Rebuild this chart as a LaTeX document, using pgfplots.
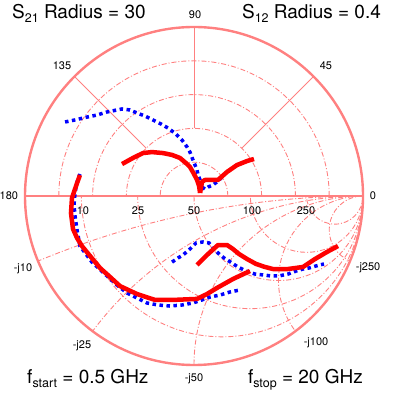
\documentclass[border=0pt]{standalone}
\usepackage{fontspec}
\setmainfont{TeX Gyre Heros}
\usepackage{pgfplots}
\pgfplotsset{compat=1.18}
\definecolor{gridc}{RGB}{255,128,128}
\definecolor{cred}{RGB}{255,0,0}
\definecolor{cblue}{RGB}{0,0,255}
\newcommand{\sub}[1]{\raisebox{-4pt}{\fontsize{12.5}{13}\selectfont #1}}
\begin{document}
\begin{tikzpicture}
\begin{axis}[scale only axis, width=396pt, height=393pt,
  xmin=-1.14793, xmax=1.19527, ymin=-1.16568, ymax=1.15976,
  hide axis, clip=false]
% ---- polar grid (upper half)
\begin{scope}[gridc, line width=0.9pt, dash pattern=on 5pt off 2pt on 1pt off 2pt]
\draw (axis cs:0.2,0) arc[start angle=0, end angle=180, radius=0.2*169pt];
\draw (axis cs:0.4,0) arc[start angle=0, end angle=180, radius=0.4*169pt];
\draw (axis cs:0.6,0) arc[start angle=0, end angle=180, radius=0.6*169pt];
\draw (axis cs:0.8,0) arc[start angle=0, end angle=180, radius=0.8*169pt];
% ---- smith resistance circles (lower half)
\draw (axis cs:1,0) arc[start angle=0, end angle=-180, radius=0.83333*169pt];
\draw (axis cs:1,0) arc[start angle=0, end angle=-180, radius=0.66667*169pt];
\draw (axis cs:1,0) arc[start angle=0, end angle=-180, radius=0.5*169pt];
\draw (axis cs:1,0) arc[start angle=0, end angle=-180, radius=0.33333*169pt];
\draw (axis cs:1,0) arc[start angle=0, end angle=-180, radius=0.16667*169pt];
% ---- reactance arcs
\draw (axis cs:1,0) arc[start angle=90, end angle=112.62, radius=5*169pt];
\draw (axis cs:1,0) arc[start angle=90, end angle=143.13, radius=2*169pt];
\draw (axis cs:1,0) arc[start angle=90, end angle=180, radius=1*169pt];
\draw (axis cs:1,0) arc[start angle=90, end angle=216.87, radius=0.5*169pt];
\draw (axis cs:1,0) arc[start angle=90, end angle=247.38, radius=0.2*169pt];
\end{scope}
\draw[gridc, line width=1pt] (axis cs:0.28284,0.28284) -- (axis cs:0.70711,0.70711);
\draw[gridc, line width=1pt] (axis cs:-0.28284,0.28284) -- (axis cs:-0.70711,0.70711);
\draw[gridc, line width=1pt] (axis cs:0,0.4) -- (axis cs:0,1);
\draw[gridc, line width=1.2pt] (axis cs:-1,0) -- (axis cs:1,0);
\draw[gridc, line width=2.4pt] (axis cs:0,0) circle[radius=169pt];
% ---- labels
\begin{scope}[every node/.style={font=\fontsize{11}{12}\selectfont}]
\node[anchor=east] at (axis cs:-1.02,0) {180};
\node at (axis cs:1.059,0) {0};
\node at (axis cs:0.006,1.071) {90};
\node at (axis cs:-0.781,0.772) {135};
\node at (axis cs:0.781,0.772) {45};
\node at (axis cs:-0.657,-0.089) {10};
\node at (axis cs:-0.331,-0.089) {25};
\node at (axis cs:0,-0.089) {50};
\node at (axis cs:0.343,-0.089) {100};
\node at (axis cs:0.663,-0.089) {250};
\node at (axis cs:-1.012,-0.432) {-j10};
\node at (axis cs:-0.663,-0.888) {-j25};
\node at (axis cs:0,-1.083) {-j50};
\node at (axis cs:0.722,-0.870) {-j100};
\node at (axis cs:1.030,-0.426) {-j250};
\end{scope}
\begin{scope}[every node/.style={font=\fontsize{19}{21}\selectfont, inner sep=0pt}]
\node[anchor=base west] at (axis cs:-1.077,1.053) {S\sub{21} Radius = 30};
\node[anchor=base east] at (axis cs:1.107,1.053) {S\sub{12} Radius = 0.4};
\node[anchor=base west] at (axis cs:-0.988,-1.112) {f\sub{start} = 0.5 GHz};
\node[anchor=base east] at (axis cs:1.0,-1.112) {f\sub{stop} = 20 GHz};
\end{scope}
% ---- data: blue dotted (drawn first)
\pgfplotsset{bl/.style={cblue, line width=3.5pt, dash pattern=on 3.5pt off 3.5pt, line cap=butt},
             rd/.style={cred, line width=4.5pt, line join=round, line cap=butt}}
\addplot[bl] coordinates {
(-0.763,0.438) (-0.704,0.450) (-0.633,0.467) (-0.574,0.479) (-0.515,0.497)
(-0.426,0.515) (-0.379,0.509) (-0.337,0.491) (-0.290,0.473) (-0.243,0.450)
(-0.195,0.426) (-0.154,0.402) (-0.107,0.367) (-0.071,0.331) (-0.041,0.290)
(-0.024,0.260) (-0.006,0.213) (0.006,0.183) (0.018,0.154) (0.024,0.124)
(0.036,0.095) (0.047,0.053)};
\addplot[bl] coordinates {
(0.047,0.053) (0.065,0.041) (0.083,0.053) (0.112,0.065) (0.142,0.089) (0.166,0.112)};
\addplot[bl] coordinates {
(-0.675,0.130) (-0.692,0.083) (-0.704,0.018) (-0.710,-0.053) (-0.704,-0.118)
(-0.692,-0.201) (-0.675,-0.296) (-0.604,-0.391) (-0.515,-0.473) (-0.456,-0.527)
(-0.396,-0.574) (-0.337,-0.604) (-0.278,-0.633) (-0.213,-0.645) (-0.142,-0.651)
(-0.071,-0.645) (-0.006,-0.633) (0.047,-0.615) (0.095,-0.598) (0.154,-0.586)
(0.213,-0.568) (0.272,-0.556)};
\addplot[bl] coordinates {
(-0.130,-0.391) (-0.095,-0.367) (-0.065,-0.349) (-0.024,-0.314) (0.012,-0.278)
(0.053,-0.272) (0.089,-0.278) (0.118,-0.314) (0.142,-0.337) (0.178,-0.367)
(0.207,-0.385) (0.260,-0.420) (0.308,-0.444) (0.361,-0.462) (0.408,-0.467)
(0.456,-0.473) (0.503,-0.473) (0.556,-0.462) (0.604,-0.444) (0.645,-0.432)
(0.680,-0.426) (0.722,-0.414) (0.769,-0.402)};
% ---- data: red solid
\addplot[rd] coordinates {
(-0.426,0.189) (-0.361,0.225) (-0.302,0.254) (-0.249,0.260) (-0.183,0.254)
(-0.130,0.243) (-0.083,0.225) (-0.041,0.189) (-0.024,0.172) (0.000,0.130)
(0.018,0.095) (0.030,0.059) (0.036,0.018)};
\addplot[rd] coordinates {
(0.036,0.018) (0.047,0.083) (0.065,0.095) (0.142,0.095) (0.195,0.142)
(0.254,0.183) (0.314,0.207) (0.355,0.219)};
\addplot[rd] coordinates {
(-0.675,0.124) (-0.698,0.059) (-0.722,-0.012) (-0.728,-0.101) (-0.716,-0.195)
(-0.692,-0.249) (-0.663,-0.296) (-0.615,-0.355) (-0.556,-0.426) (-0.497,-0.479)
(-0.438,-0.533) (-0.337,-0.580) (-0.231,-0.615) (-0.124,-0.615) (0.018,-0.609)
(0.077,-0.580) (0.136,-0.544) (0.231,-0.491) (0.331,-0.444)};
\addplot[rd] coordinates {
(0.018,-0.408) (0.077,-0.349) (0.142,-0.290) (0.195,-0.290) (0.231,-0.314)
(0.266,-0.343) (0.314,-0.373) (0.367,-0.402) (0.420,-0.420) (0.467,-0.432)
(0.556,-0.432) (0.645,-0.420) (0.716,-0.373) (0.787,-0.331) (0.852,-0.296)};
\end{axis}
\pgfresetboundingbox
\useasboundingbox (0,0) rectangle (396pt,393pt);
\end{tikzpicture}
\end{document}
